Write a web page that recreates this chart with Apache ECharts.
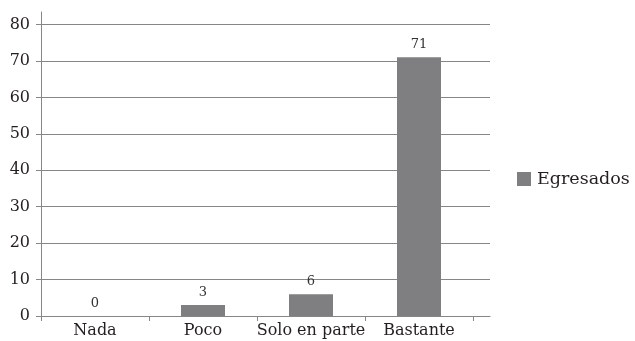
<!DOCTYPE html>
<html>
<head>
<meta charset="utf-8">
<script src="https://cdn.jsdelivr.net/npm/echarts@6/dist/echarts.min.js"></script>
<style>
html,body{margin:0;padding:0;background:#fff;}
#chart{width:635px;height:341px;}
</style>
</head>
<body>
<div id="chart"></div>
<script>
var categorias = ['Nada', 'Poco', 'Solo en parte', 'Bastante'];
var egresados = [0, 3, 6, 71];
var serieNombre = 'Egresados';
var yMin = 0, yMax = 80, yPaso = 10;

var fuente = 'DejaVu Serif';
var gris = '#868686';
var texto = '#231f20';

var dom = document.getElementById('chart');
var myChart = echarts.init(dom);

var option = {
    animation: false,
    textStyle: { fontFamily: fuente },
    grid: [
        { left: 41, right: 162, top: 24.5, bottom: 25 },   // barras
        { left: 41, right: 145, top: 12, bottom: 25 }      // lineas de fondo
    ],
    legend: {
        data: [serieNombre],
        left: 512,
        top: 165,
        icon: 'rect',
        itemWidth: 14,
        itemHeight: 14,
        textStyle: { fontFamily: fuente, fontSize: 17.5, color: texto, padding: [0, 0, 0, 1] }
    },
    xAxis: [
        {
            gridIndex: 0,
            type: 'category',
            data: categorias,
            axisLine: { show: false },
            axisTick: { show: true, length: 5, lineStyle: { color: gris } },
            axisLabel: { fontFamily: fuente, fontSize: 16, color: texto, margin: 7, interval: 0 }
        },
        {
            gridIndex: 1,
            type: 'value',
            min: 0, max: 1,
            axisLine: { show: true, lineStyle: { color: gris } },
            axisTick: { show: false },
            axisLabel: { show: false },
            splitLine: { show: false }
        }
    ],
    yAxis: [
        {
            gridIndex: 0,
            type: 'value',
            min: yMin, max: yMax, interval: yPaso,
            axisLine: { show: false },
            axisTick: { show: true, length: 5, lineStyle: { color: gris } },
            axisLabel: { fontFamily: fuente, fontSize: 16, color: texto, margin: 11 },
            splitLine: { show: false }
        },
        {
            gridIndex: 1,
            type: 'value',
            min: yMin, max: yMax * 304 / 291.5, interval: yPaso,
            axisLine: { show: true, lineStyle: { color: gris } },
            axisTick: { show: false },
            axisLabel: { show: false },
            splitLine: { show: true, showMaxLine: false, lineStyle: { color: gris } }
        }
    ],
    series: [
        {
            name: serieNombre,
            type: 'bar',
            xAxisIndex: 0,
            yAxisIndex: 0,
            data: egresados,
            barWidth: 44,
            itemStyle: { color: '#7f7f81' },
            label: {
                show: true,
                position: 'top',
                distance: 6,
                fontFamily: fuente,
                fontSize: 13,
                color: '#333'
            }
        }
    ]
};
myChart.setOption(option);
</script>
</body>
</html>
